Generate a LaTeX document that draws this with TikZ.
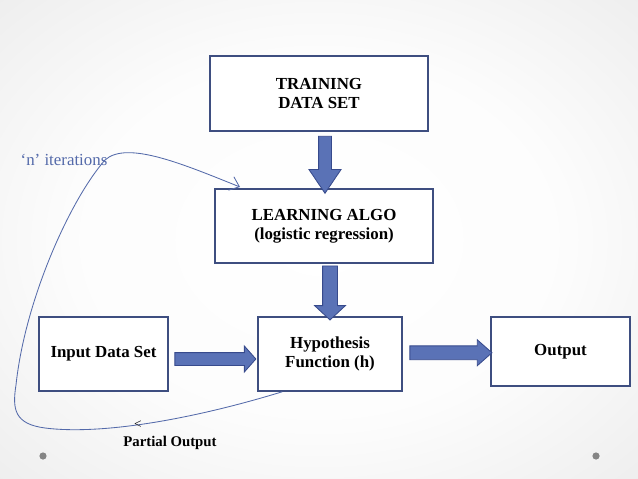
\documentclass[tikz,border=0pt]{standalone}
\usepackage{fontspec}
\setmainfont{Liberation Serif}
\usetikzlibrary{arrows.meta,shapes.arrows,calc}

\definecolor{boxline}{RGB}{62,78,128}
\definecolor{arrfill}{RGB}{90,114,182}
\definecolor{arrline}{RGB}{55,74,140}
\definecolor{loopcol}{RGB}{84,106,170}
\pgfdeclareradialshading{slidebg}{\pgfpoint{0bp}{0bp}}{%
  rgb(0bp)=(1,1,1); rgb(16bp)=(0.99,0.99,0.99); rgb(50bp)=(0.85,0.85,0.85)}

\begin{document}
\begin{tikzpicture}[
    x=0.025cm, y=-0.025cm,
    box/.style      = {rectangle, draw=boxline, line width=1.1pt, fill=white,
                       align=center, font=\fontsize{12}{13.5}\selectfont\bfseries},
    fatarrow/.style = {single arrow, draw=arrline, fill=arrfill, line width=0.6pt,
                       inner xsep=0pt, inner ysep=0.15cm,
                       single arrow head extend=0.2cm},
    lbl/.style      = {font=\fontsize{12}{13}\selectfont, text=loopcol},
    dot/.style      = {circle, fill=black!48, inner sep=0pt, minimum size=0.18cm},
  ]
  % background
  \useasboundingbox (0,0) rectangle (638,479);
  \shade[shading=slidebg] (-64,-48) rectangle (702,527);
  % boxes
  \node[box, minimum width=5.45cm, minimum height=1.875cm] (train) at (319,93.5)
       {TRAINING\\DATA SET};
  \node[box, minimum width=5.45cm, minimum height=1.85cm] (learn) at (324,226)
       {LEARNING ALGO\\(logistic regression)};
  \node[box, minimum width=3.6cm, minimum height=1.85cm] (hyp) at (330,354)
       {Hypothesis\\Function (h)};
  \node[box, minimum width=3.225cm, minimum height=1.85cm] (input) at (103.5,354)
       {Input Data Set};
  \node[box, minimum width=3.475cm, minimum height=1.725cm] (output) at (560.5,351.5)
       {Output};
  % block arrows
  \path (train.south -| 325,0) -- node[fatarrow, rotate=-90, minimum height=1.425cm,
        single arrow tip angle=68, single arrow head extend=0.24cm] {} (learn.north -| 325,0);
  \path (learn.south -| hyp) -- node[fatarrow, rotate=-90, minimum height=1.35cm,
        inner ysep=0.175cm, single arrow tip angle=94] {} ($(hyp.north)+(0,-1)$);
  \path ($(input.east)+(4,5)$) -- node[fatarrow, minimum height=2.025cm,
        single arrow tip angle=97, single arrow head extend=0.165cm] {} ($(hyp.west)+(-5,5)$);
  \path ($(hyp.east)+(4,0)$) -- node[fatarrow, minimum height=2.05cm,
        inner ysep=0.1625cm, single arrow tip angle=83,
        single arrow head extend=0.15cm] {} ($(output.west)+(-3,0)$);
  % iteration loop
  \coordinate (loopend) at (240,187);
  \draw[loopcol, line width=0.6pt, -{Straight Barb[length=2.2mm,width=3.6mm]}]
       ($(hyp.south west)+(25,0)$)
       .. controls (190,420) and (100,435) .. (45,428)
       .. controls (15,424) and (12,410) .. (16,385)
       .. controls (25,300) and (70,200) .. (105,160)
       .. controls (127,140) and (185,165) .. (loopend);
  \node[lbl] (iter) at (64,160) {‘n’ iterations};
  \node[font=\fontsize{9.5}{10}\selectfont] (mark) at (138,425) {<};
  \node[font=\fontsize{10.5}{12}\selectfont\bfseries] (partial) at (170,443) {Partial Output};
  % slide dots
  \node[dot] (dl) at (43,456) {};
  \node[dot] (dr) at (596,456) {};
\end{tikzpicture}
\end{document}
